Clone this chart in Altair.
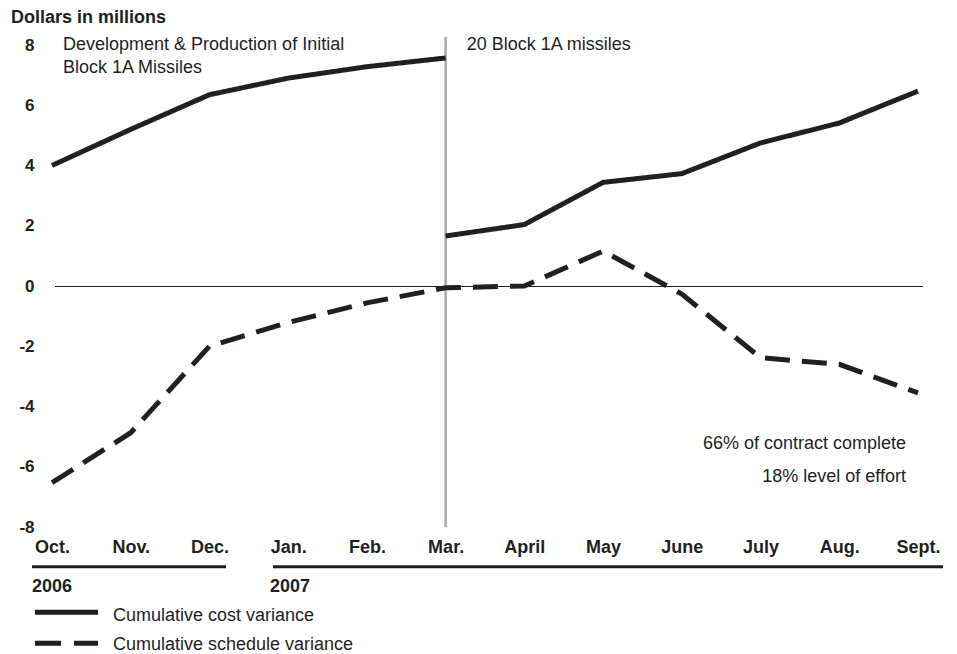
import altair as alt
import pandas as pd

# ---- data ----
months = ["Oct.", "Nov.", "Dec.", "Jan.", "Feb.", "Mar.",
          "April", "May", "June", "July", "Aug.", "Sept."]
cost_initial_months = ["Oct.", "Nov.", "Dec.", "Jan.", "Feb.", "Mar."]
cost_initial = [4.0, 5.2, 6.35, 6.9, 7.28, 7.57]
cost_block_months = ["Mar.", "April", "May", "June", "July", "Aug.", "Sept."]
cost_block = [1.66, 2.04, 3.44, 3.73, 4.75, 5.41, 6.47]
schedule = [-6.53, -4.87, -2.0, -1.21, -0.56, -0.06, 0.0, 1.16, -0.27, -2.38, -2.6, -3.55]
y_ticks = [-8, -6, -4, -2, 0, 2, 4, 6, 8]
series_names = ["Cumulative cost variance", "Cumulative schedule variance"]
years = ["2006", "2007"]

FONT = "Liberation Sans"
INK = "#231f20"

rows = []
for m, v in zip(cost_initial_months, cost_initial):
    rows.append({"month": m, "value": v, "series": series_names[0], "seg": "a"})
for m, v in zip(cost_block_months, cost_block):
    rows.append({"month": m, "value": v, "series": series_names[0], "seg": "b"})
for m, v in zip(months, schedule):
    rows.append({"month": m, "value": v, "series": series_names[1], "seg": "c"})
df = pd.DataFrame(rows)

x_enc = alt.X("month:O", sort=months,
              scale=alt.Scale(type="point", padding=0, domain=months),
              axis=alt.Axis(title=None, domain=False, ticks=False, grid=False,
                            labelAngle=0, labelFont=FONT, labelFontSize=18,
                            labelFontWeight="bold", labelColor=INK,
                            labelBaseline="alphabetic", labelPadding=25))
y_enc = alt.Y("value:Q", scale=alt.Scale(domain=[-8, 8], nice=False, zero=False),
              axis=alt.Axis(title=None, values=y_ticks, domain=False, ticks=False,
                            grid=False, labelFont=FONT, labelFontSize=17,
                            labelFontWeight="bold", labelColor=INK, labelPadding=18,
                            labelExpr="'' + datum.value"))

lines = alt.Chart(df).mark_line(strokeWidth=5, color=INK, strokeJoin="miter").encode(
    x=x_enc, y=y_enc,
    strokeDash=alt.StrokeDash("series:N",
                              scale=alt.Scale(domain=series_names, range=[[1, 0], [25, 12]]),
                              legend=None),
    detail="seg:N",
)

zero = alt.Chart(pd.DataFrame({"value": [0]})).mark_rule(
    color=INK, strokeWidth=1, yOffset=0.5).encode(
    y=y_enc, x=alt.value(3), x2=alt.value(871))

divider = alt.Chart(pd.DataFrame({"month": ["Mar."]})).mark_rule(
    color="#a7a9ac", strokeWidth=2.5).encode(x=x_enc, y=alt.value(-8), y2=alt.value(482))

ann_left = alt.Chart(pd.DataFrame({
    "month": ["Oct.", "Oct."], "value": [7.82, 7.08],
    "text": ["Development & Production of Initial", "Block 1A Missiles"]})).mark_text(
    align="left", baseline="alphabetic", dx=11, font=FONT, fontSize=18, color=INK
).encode(x=x_enc, y=y_enc, text="text:N")

ann_mar = alt.Chart(pd.DataFrame({
    "month": ["Mar."], "value": [7.82], "text": ["20 Block 1A missiles"]})).mark_text(
    align="left", baseline="alphabetic", dx=21, font=FONT, fontSize=18, color=INK
).encode(x=x_enc, y=y_enc, text="text:N")

ann_right = alt.Chart(pd.DataFrame({
    "month": ["Sept.", "Sept."], "value": [-5.42, -6.49],
    "text": ["66% of contract complete", "18% level of effort"]})).mark_text(
    align="right", baseline="alphabetic", dx=-12, font=FONT, fontSize=18, color=INK
).encode(x=x_enc, y=y_enc, text="text:N")

title = alt.Chart(pd.DataFrame({"t": ["Dollars in millions"]})).mark_text(
    align="left", baseline="alphabetic", font=FONT, fontSize=18, fontWeight="bold", color=INK
).encode(x=alt.value(-41), y=alt.value(-22.3), text="t:N")

# year brackets
year_line1 = alt.Chart(pd.DataFrame({"a": [0]})).mark_rule(color=INK, strokeWidth=3).encode(
    x=alt.value(-20), x2=alt.value(174), y=alt.value(521.7))
year_line2 = alt.Chart(pd.DataFrame({"a": [0]})).mark_rule(color=INK, strokeWidth=3).encode(
    x=alt.value(221), x2=alt.value(891), y=alt.value(521.7))
year1 = alt.Chart(pd.DataFrame({"t": [years[0]]})).mark_text(
    align="left", baseline="alphabetic", font=FONT, fontSize=18, fontWeight="bold", color=INK
).encode(x=alt.value(-20), y=alt.value(547), text="t:N")
year2 = alt.Chart(pd.DataFrame({"t": [years[1]]})).mark_text(
    align="left", baseline="alphabetic", font=FONT, fontSize=18, fontWeight="bold", color=INK
).encode(x=alt.value(218), y=alt.value(547), text="t:N")

# manual legend
leg1_line = alt.Chart(pd.DataFrame({"a": [0]})).mark_rule(color=INK, strokeWidth=5).encode(
    x=alt.value(-17), x2=alt.value(46), y=alt.value(567.3))
leg2_line = alt.Chart(pd.DataFrame({"a": [0]})).mark_rule(
    color=INK, strokeWidth=5, strokeDash=[26, 13]).encode(
    x=alt.value(-17), x2=alt.value(46), y=alt.value(598.3))
leg1_text = alt.Chart(pd.DataFrame({"t": [series_names[0]]})).mark_text(
    align="left", baseline="alphabetic", font=FONT, fontSize=18, color=INK
).encode(x=alt.value(61), y=alt.value(575.7), text="t:N")
leg2_text = alt.Chart(pd.DataFrame({"t": [series_names[1]]})).mark_text(
    align="left", baseline="alphabetic", font=FONT, fontSize=18, color=INK
).encode(x=alt.value(61), y=alt.value(605), text="t:N")

chart = alt.layer(
    zero, divider, lines, ann_left, ann_mar, ann_right, title,
    year_line1, year_line2, year1, year2,
    leg1_line, leg2_line, leg1_text, leg2_text,
).properties(
    width=866, height=482,
    autosize=alt.AutoSizeParams(type="none"),
    padding={"left": 44, "top": 37, "right": 30, "bottom": 128},
    background="white",
).configure_view(stroke=None)

chart.save("out.html", embed_options={"renderer": "svg", "actions": False})
